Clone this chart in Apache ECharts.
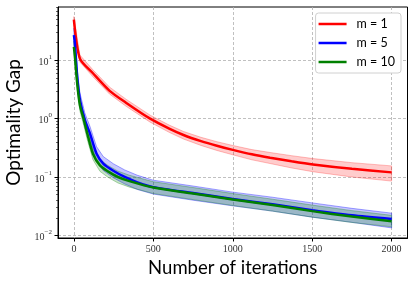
<!DOCTYPE html>
<html><head><meta charset="utf-8">
<script src="https://cdn.jsdelivr.net/npm/echarts@6/dist/echarts.min.js"></script>
<style>html,body{margin:0;padding:0;background:#fff}#c{width:415px;height:286px}</style>
</head><body><div id="c"></div>
<script>
// ---- data ----
const xTicks = [0, 500, 1000, 1500, 2000];
const yTicks = [0.01, 0.1, 1, 10];
const yMinorTicks = [0.02,0.03,0.04,0.05,0.06,0.07,0.08,0.09,0.2,0.3,0.4,0.5,0.6,0.7,0.8,0.9,2,3,4,5,6,7,8,9,20,30,40,50,60,70,80];
const seriesNames = ['m = 1', 'm = 5', 'm = 10'];

const redIt   = [0, 38, 120, 225, 330, 480, 600, 690, 800, 900, 1000, 1120, 1235, 1370, 1505, 1750, 2000];
const redMean = [50, 10.7, 6.0, 3.0, 1.86, 1.0, 0.676, 0.525, 0.412, 0.343, 0.292, 0.245, 0.214, 0.186, 0.164, 0.138, 0.12];
const redUp   = [56.2, 12.3, 6.87, 3.47, 2.14, 1.148, 0.776, 0.603, 0.479, 0.403, 0.347, 0.295, 0.263, 0.232, 0.207, 0.176, 0.155];
const redLo   = [44.7, 9.33, 5.21, 2.63, 1.62, 0.871, 0.582, 0.447, 0.347, 0.285, 0.240, 0.197, 0.170, 0.143, 0.123, 0.100, 0.085];

const blueIt   = [0, 6, 21, 38, 69, 101, 143, 185, 248, 320, 400, 500, 750, 1000, 1250, 1500, 1750, 2000];
const blueMean = [27, 20, 5.2, 2.1, 0.95, 0.56, 0.25, 0.17, 0.128, 0.10, 0.081, 0.067, 0.053, 0.042, 0.034, 0.027, 0.022, 0.019];
const blueUp   = [35.6, 26.4, 6.9, 2.77, 1.25, 0.74, 0.33, 0.224, 0.169, 0.132, 0.107, 0.088, 0.070, 0.055, 0.045, 0.036, 0.029, 0.024];
const blueLo   = [20.5, 15.2, 3.9, 1.59, 0.72, 0.42, 0.19, 0.129, 0.097, 0.076, 0.061, 0.051, 0.040, 0.032, 0.026, 0.0205, 0.0167, 0.0134];

const greenIt   = [0, 6, 21, 38, 63, 84, 120, 164, 214, 277, 350, 500, 750, 1000, 1250, 1500, 1750, 2000];
const greenMean = [17, 12, 4.0, 1.7, 0.95, 0.56, 0.25, 0.158, 0.125, 0.10, 0.085, 0.066, 0.052, 0.041, 0.033, 0.026, 0.021, 0.0175];
const greenUp   = [21.4, 15.1, 5.0, 2.14, 1.2, 0.71, 0.315, 0.2, 0.158, 0.126, 0.107, 0.083, 0.066, 0.052, 0.0416, 0.033, 0.0265, 0.022];
const greenLo   = [13.4, 9.5, 3.2, 1.34, 0.75, 0.44, 0.198, 0.125, 0.099, 0.079, 0.067, 0.052, 0.041, 0.0324, 0.026, 0.0205, 0.0166, 0.0140];

function zip(xs, ys){ return xs.map((x,i)=>[x, ys[i]]); }

function band(name, xs, up, lo, fill, edge){
  return {
    type: 'custom', name: name + ' band', silent: true, xAxisIndex: 0, yAxisIndex: 0,
    data: [0],
    renderItem: function(params, api){
      const pts = [];
      for (let i = 0; i < xs.length; i++) pts.push(api.coord([xs[i], up[i]]));
      for (let i = xs.length - 1; i >= 0; i--) pts.push(api.coord([xs[i], lo[i]]));
      return {type: 'polygon', shape: {points: pts},
              style: {fill: fill, stroke: edge, lineWidth: 1}};
    },
    clip: true
  };
}
function line(name, xs, ys, color, w){
  return {type: 'line', name: name, data: zip(xs, ys), showSymbol: false, symbol: 'none',
          smooth: 0.25, lineStyle: {color: color, width: w}, itemStyle: {color: color},
          xAxisIndex: 0, yAxisIndex: 0, clip: true};
}

function yFmt(v){
  const e = Math.round(Math.log10(v));
  const es = String(e).replace('-', '\u2212');
  return '{b|10}{s|' + es + '}';
}
const serif = '"Liberation Serif", "DejaVu Serif", serif';
const sans = 'Lato, "Open Sans", "DejaVu Sans", sans-serif';

const chart = echarts.init(document.getElementById('c'), null, {renderer: 'canvas'});
chart.setOption({
  animation: false,
  backgroundColor: '#fff',
  grid: {left: 58, right: 7.5, top: 7, bottom: 48, show: true, borderColor: '#000', borderWidth: 1,
         backgroundColor: 'transparent', containLabel: false, outerBoundsMode: 'none'},
  legend: {
    data: seriesNames, orient: 'vertical', right: 14, top: 13,
    icon: 'rect', itemWidth: 28, itemHeight: 2.5, itemGap: 5,
    backgroundColor: '#fff', borderColor: '#d0d0d0', borderWidth: 1, borderRadius: 3,
    padding: [4, 6, 4, 3],
    textStyle: {fontFamily: sans, fontSize: 12.5, color: '#000', lineHeight: 14, padding: [0,0,0,5]}
  },
  xAxis: [{
    type: 'value', min: -100, max: 2100,
    name: 'Number of iterations', nameLocation: 'middle', nameGap: 12,
    nameTextStyle: {fontFamily: sans, fontSize: 18.5, color: '#000'},
    axisLine: {show: true, onZero: false, lineStyle: {color: '#000', width: 1}},
    axisTick: {show: true, inside: false, length: 3.5, customValues: xTicks, lineStyle: {color: '#000'}},
    axisLabel: {customValues: xTicks, formatter: v => String(v), fontFamily: serif, fontSize: 10, color: '#333', margin: 6},
    splitLine: {show: true, lineStyle: {color: '#b0b0b0', type: [3, 2], width: 0.8}}
  }],
  yAxis: [{
    type: 'log', min: 0.009, max: 82, logBase: 10,
    name: 'Optimality Gap', nameLocation: 'middle', nameGap: 31,
    nameTextStyle: {fontFamily: sans, fontSize: 19, color: '#000'},
    axisLine: {show: true, onZero: false, lineStyle: {color: '#000', width: 1}},
    axisTick: {show: true, inside: false, length: 3.5, customValues: yTicks, lineStyle: {color: '#000'}},
    axisLabel: {customValues: yTicks, formatter: yFmt, margin: 6, color: '#333',
      rich: {b: {fontFamily: serif, fontSize: 10, color: '#333', verticalAlign: 'bottom', lineHeight: 14},
             s: {fontFamily: serif, fontSize: 7, color: '#333', verticalAlign: 'top', lineHeight: 14}}},
    splitLine: {show: true, lineStyle: {color: '#b0b0b0', type: [3, 2], width: 0.8}}
  }, {
    type: 'log', min: 0.009, max: 82, logBase: 10, position: 'left', offset: 0,
    axisLine: {show: false, onZero: false},
    axisTick: {show: true, inside: false, length: 2, customValues: yMinorTicks, lineStyle: {color: '#000', width: 0.6}},
    axisLabel: {show: false},
    splitLine: {show: false}
  }],
  series: [
    band('m = 1', redIt, redUp, redLo, 'rgba(255,0,0,0.2)', 'rgba(255,0,0,0.25)'),
    line('m = 1', redIt, redMean, '#ff0000', 2.5),
    band('m = 5', blueIt, blueUp, blueLo, 'rgba(0,0,255,0.22)', 'rgba(0,0,255,0.35)'),
    line('m = 5', blueIt, blueMean, '#0000ff', 2.5),
    band('m = 10', greenIt, greenUp, greenLo, 'rgba(0,128,0,0.22)', 'rgba(0,128,0,0.3)'),
    line('m = 10', greenIt, greenMean, '#008000', 2.5)
  ]
});
</script></body></html>
